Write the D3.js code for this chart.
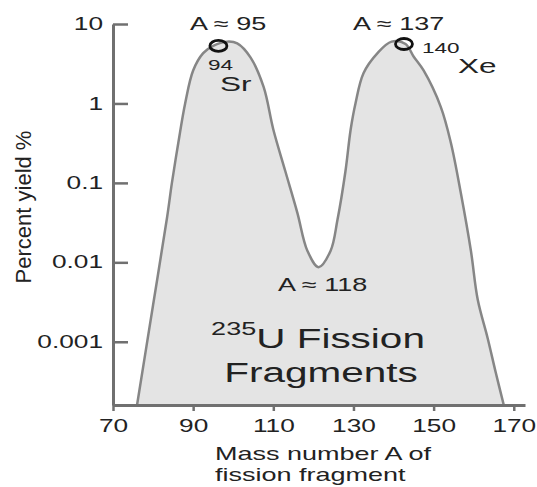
<!DOCTYPE html>
<html>
<head>
<meta charset="utf-8">
<script src="https://cdn.jsdelivr.net/npm/d3@7"></script>
<style>
  html, body { margin: 0; padding: 0; background: #fff; }
  text { font-family: "Liberation Sans", Arial, Helvetica, sans-serif; fill: #222; }
</style>
</head>
<body>
<svg id="chart"></svg>
<script>
const width = 537;
const height = 487;

// mass number A and percent yield
const massNumbers = [76, 80, 83.5, 84.7, 86.3, 88, 90, 92.5, 95, 98.5, 101, 104.3, 107.6, 110, 113, 116, 118.5, 121.3,
    124.3, 126, 128, 129.3, 130.5, 132.5, 136, 139.5, 143, 145, 147.5, 151.8, 154.3, 156.8, 159.3, 161, 163.5, 165.5, 167.5];
const yields = [0.00016, 0.0029, 0.037, 0.1, 0.32, 1.0, 2.6, 4.3, 5.3, 6.0, 5.7, 3.8, 1.6, 0.47, 0.14, 0.042, 0.014, 0.0087,
    0.014, 0.034, 0.14, 0.47, 1.0, 2.4, 4.3, 6.0, 5.6, 3.9, 2.6, 0.9, 0.32, 0.074, 0.014, 0.0034, 0.0011, 0.00041, 0.00016];

const xTicks = [70, 90, 110, 130, 150, 170];
const yTicks = [10, 1, 0.1, 0.01, 0.001];
const yTickLabels = ["10", "1", "0.1", "0.01", "0.001"];

// marked nuclides (circles)
const markerMass = [96.3, 142.6];
const markerYield = [5.3, 5.6];

const SX = 1.5; // the original lettering is wide

const svg = d3.select("#chart")
    .attr("width", width)
    .attr("height", height);

const x = d3.scaleLinear().domain([70, 172.8]).range([113, 525]);
const y = d3.scaleLog().domain([0.00016, 10]).range([405, 24]);

const data = massNumbers.map((a, i) => ({ a, v: yields[i] }));
const curve = d3.curveCatmullRom.alpha(0.5);

const area = d3.area()
    .x(d => x(d.a))
    .y0(y.range()[0])
    .y1(d => y(d.v))
    .curve(curve);

const line = d3.line()
    .x(d => x(d.a))
    .y(d => y(d.v))
    .curve(curve);

svg.append("path")
    .datum(data)
    .attr("d", area)
    .attr("fill", "#e4e4e4");

svg.append("path")
    .datum(data)
    .attr("d", line)
    .attr("fill", "none")
    .attr("stroke", "#868686")
    .attr("stroke-width", 2.5);

// axes
const xAxis = svg.append("g")
    .attr("transform", `translate(0,${y.range()[0]})`)
    .call(d3.axisBottom(x).tickValues(xTicks).tickSize(6).tickSizeOuter(0).tickPadding(9));

const yAxis = svg.append("g")
    .attr("transform", `translate(${x.range()[0]},0)`)
    .call(d3.axisLeft(y).tickValues(yTicks).tickSize(-15).tickSizeOuter(0)
        .tickFormat((d, i) => yTickLabels[i]));

[xAxis, yAxis].forEach(g => {
    g.select(".domain").attr("stroke", "#707070").attr("stroke-width", 3);
    g.selectAll(".tick line").attr("stroke", "#707070").attr("stroke-width", 2.5);
    g.selectAll("text").attr("font-size", 17.5).attr("fill", "#222")
        .style("font-family", "'Liberation Sans', Arial, sans-serif");
});
xAxis.selectAll("text").attr("transform", `scale(${SX},1)`);
yAxis.selectAll("text").attr("x", -10 / SX).attr("transform", `scale(${SX},1)`);

// stretched text helper
function label(txt, px, py, size, anchor = "start") {
    return svg.append("text")
        .attr("transform", `translate(${px},${py}) scale(${SX},1)`)
        .attr("font-size", size)
        .attr("text-anchor", anchor)
        .text(txt);
}

label("A \u2248 95", 190, 30, 18);
label("A \u2248 137", 353, 30, 18);
label("A \u2248 118", 278, 291, 18);
label("94", 208, 70, 15);
label("Sr", 220, 91, 21);
label("140", 422, 53, 15);
label("Xe", 458, 73, 21);

// title inside the area
const t1 = svg.append("text")
    .attr("transform", `translate(318,348) scale(${SX},1)`)
    .attr("text-anchor", "middle")
    .attr("font-size", 27);
t1.append("tspan").attr("font-size", 18).attr("dy", -13).text("235");
t1.append("tspan").attr("dy", 13).text("U Fission");
label("Fragments", 321, 382, 27, "middle");

label("Mass number A of", 215, 460, 18);
label("fission fragment", 215, 481, 18);

svg.append("text")
    .attr("transform", `translate(31,207) rotate(-90)`)
    .attr("text-anchor", "middle")
    .attr("font-size", 22)
    .text("Percent yield %");

// circles on the peaks
svg.selectAll(".marker")
    .data(markerMass)
    .enter().append("ellipse")
    .attr("class", "marker")
    .attr("cx", d => x(d))
    .attr("cy", (d, i) => y(markerYield[i]))
    .attr("rx", 8.5)
    .attr("ry", 5.5)
    .attr("fill", "none")
    .attr("stroke", "#111")
    .attr("stroke-width", 2.8);
</script>
</body>
</html>
